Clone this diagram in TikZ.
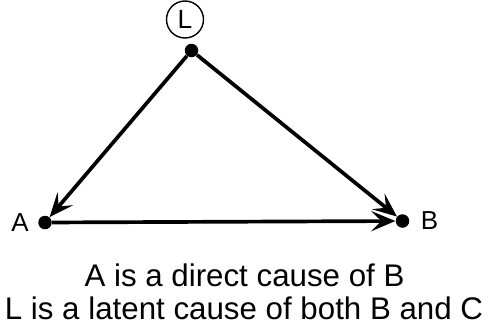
\documentclass[tikz,border=0pt]{standalone}
\usepackage{fontspec}
\setmainfont{Liberation Sans}
\usetikzlibrary{arrows.meta, positioning}

\begin{document}
\begin{tikzpicture}[
			dotnode/.style={circle, fill=black, inner sep=0pt, minimum size=0.27cm},
			latentnode/.style={draw, circle, line width=0.8pt, inner sep=0pt, minimum size=0.74cm, font=\fontsize{15}{16}\selectfont},
			varlabel/.style={font=\fontsize{14.8}{16}\selectfont},
			caption/.style={anchor=base, font=\fontsize{17.8}{20}\selectfont},
			arrow/.style={-{Stealth[length=0.48cm, width=0.4cm, inset=0.2cm]}, line width=2.1pt}
			]
			\useasboundingbox (0,0) rectangle (9.76,-6.52);
			
			% Variables
			\node[dotnode] (l) at (3.83, -1.01) {};
			\node[dotnode] (a) at (0.90, -4.45) {};
			\node[dotnode] (b) at (8.05, -4.42) {};
			\node[latentnode] (lc) at (3.70, -0.39) {L};
			\node[varlabel, left=0.06cm of a] (alab) {A};
			\node[varlabel, right=0.1cm of b] (blab) {B};
			
			% Arrows
			\draw[arrow] (l) -- (a);
			\draw[arrow] (l) -- (b);
			\draw[arrow] (a) -- (b);
			
			% Caption
			\node[caption] (cap1) at (4.89, -5.72) {A is a direct cause of B};
			\node[caption] (cap2) at (4.88, -6.39) {L is a latent cause of both B and C};
		\end{tikzpicture}
\end{document}
